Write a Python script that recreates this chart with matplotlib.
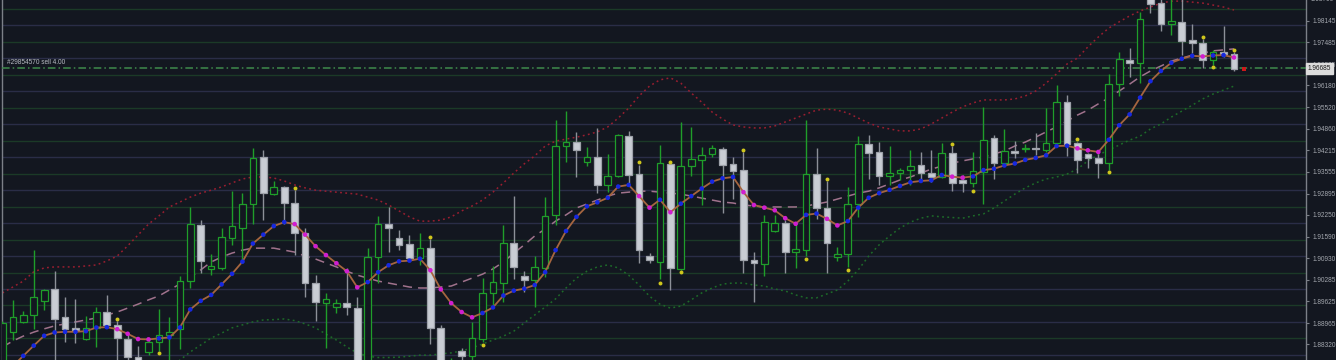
import numpy as np
import matplotlib
matplotlib.use("Agg")
import matplotlib.pyplot as plt
import matplotlib.transforms as mtransforms

# --- bar data (one value per candle) ---
opens = [1.8778, 1.8870, 1.8900, 1.8921, 1.8963, 1.9000, 1.8915, 1.8882, 1.8848, 1.8882,
         1.8930, 1.8891, 1.8848, 1.8794, 1.8809, 1.8839, 1.8860, 1.8879, 1.9024, 1.9194,
         1.9061, 1.9064, 1.9155, 1.9185, 1.9258, 1.9401, 1.9288, 1.9310, 1.9261, 1.9170,
         1.9018, 1.8958, 1.8945, 1.8958, 1.8942, 1.8760, 1.9097, 1.9197, 1.9155, 1.9137,
         1.9094, 1.9124, 1.8882, 1.8739, 1.8812, 1.8797, 1.8848, 1.8988, 1.9018, 1.9140,
         1.9039, 1.9027, 1.9064, 1.9225, 1.9434, 1.9446, 1.9386, 1.9401, 1.9316, 1.9343,
         1.9464, 1.9349, 1.9100, 1.9082, 1.9379, 1.9061, 1.9373, 1.9392, 1.9410, 1.9425,
         1.9379, 1.9361, 1.9088, 1.9076, 1.9176, 1.9200, 1.9112, 1.9118, 1.9349, 1.9246,
         1.9097, 1.9106, 1.9258, 1.9440, 1.9416, 1.9343, 1.9352, 1.9361, 1.9376, 1.9352,
         1.9340, 1.9413, 1.9331, 1.9322, 1.9355, 1.9458, 1.9382, 1.9419, 1.9425, 1.9428,
         1.9422, 1.9443, 1.9568, 1.9443, 1.9410, 1.9398, 1.9382, 1.9622, 1.9695, 1.9686,
         1.9887, 1.9868, 1.9805, 1.9811, 1.9756, 1.9747, 1.9695, 1.9720, 1.9713]
highs = [1.8903, 1.8967, 1.8933, 1.9118, 1.9000, 1.9054, 1.8976, 1.8970, 1.8918, 1.8945,
         1.8982, 1.8903, 1.8860, 1.8827, 1.8845, 1.8939, 1.8915, 1.9039, 1.9249, 1.9209,
         1.9106, 1.9185, 1.9298, 1.9291, 1.9428, 1.9422, 1.9328, 1.9313, 1.9300, 1.9185,
         1.9042, 1.8988, 1.8970, 1.9064, 1.8976, 1.9124, 1.9222, 1.9249, 1.9179, 1.9164,
         1.9170, 1.9152, 1.8891, 1.8790, 1.8821, 1.8900, 1.9033, 1.9070, 1.9194, 1.9282,
         1.9054, 1.9100, 1.9279, 1.9513, 1.9540, 1.9477, 1.9431, 1.9489, 1.9410, 1.9471,
         1.9480, 1.9376, 1.9109, 1.9437, 1.9382, 1.9507, 1.9492, 1.9431, 1.9437, 1.9431,
         1.9401, 1.9416, 1.9112, 1.9225, 1.9225, 1.9209, 1.9200, 1.9513, 1.9428, 1.9328,
         1.9127, 1.9310, 1.9464, 1.9468, 1.9446, 1.9434, 1.9367, 1.9422, 1.9416, 1.9422,
         1.9443, 1.9434, 1.9346, 1.9416, 1.9553, 1.9468, 1.9486, 1.9449, 1.9440, 1.9474,
         1.9550, 1.9619, 1.9589, 1.9446, 1.9413, 1.9410, 1.9653, 1.9720, 1.9732, 1.9841,
         1.9896, 1.9883, 1.9887, 1.9887, 1.9805, 1.9759, 1.9726, 1.9798, 1.9720]
lows = [1.8760, 1.8845, 1.8897, 1.8879, 1.8936, 1.8778, 1.8839, 1.8836, 1.8845, 1.8824,
        1.8888, 1.8769, 1.8778, 1.8748, 1.8800, 1.8812, 1.8778, 1.8818, 1.9003, 1.9048,
        1.9042, 1.9058, 1.9134, 1.9079, 1.9197, 1.9209, 1.9285, 1.9197, 1.9103, 1.8976,
        1.8903, 1.8821, 1.8927, 1.8921, 1.8739, 1.8748, 1.9018, 1.9112, 1.9118, 1.9088,
        1.9073, 1.8833, 1.8748, 1.8724, 1.8778, 1.8778, 1.8839, 1.8951, 1.8961, 1.9030,
        1.8991, 1.8945, 1.9036, 1.9194, 1.9386, 1.9340, 1.9373, 1.9291, 1.9294, 1.9340,
        1.9322, 1.9079, 1.9079, 1.9030, 1.8997, 1.9058, 1.9343, 1.9255, 1.9401, 1.9231,
        1.9273, 1.9048, 1.8961, 1.9039, 1.9173, 1.9048, 1.9064, 1.9100, 1.9213, 1.9048,
        1.9085, 1.9067, 1.9219, 1.9334, 1.9316, 1.9316, 1.9331, 1.9316, 1.9325, 1.9325,
        1.9337, 1.9297, 1.9294, 1.9310, 1.9258, 1.9334, 1.9376, 1.9398, 1.9416, 1.9407,
        1.9416, 1.9431, 1.9404, 1.9352, 1.9367, 1.9337, 1.9361, 1.9586, 1.9644, 1.9625,
        1.9838, 1.9783, 1.9771, 1.9710, 1.9716, 1.9671, 1.9680, 1.9704, 1.9662]
closes = [1.8897, 1.8915, 1.8921, 1.8976, 1.8997, 1.8909, 1.8879, 1.8876, 1.8882, 1.8930,
          1.8891, 1.8851, 1.8794, 1.8760, 1.8839, 1.8860, 1.8870, 1.9024, 1.9197, 1.9085,
          1.9070, 1.9158, 1.9191, 1.9258, 1.9398, 1.9291, 1.9310, 1.9261, 1.9170, 1.9018,
          1.8961, 1.8970, 1.8958, 1.8945, 1.8754, 1.9097, 1.9197, 1.9185, 1.9134, 1.9094,
          1.9124, 1.8882, 1.8760, 1.8769, 1.8797, 1.8851, 1.8988, 1.9021, 1.9140, 1.9067,
          1.9027, 1.9067, 1.9222, 1.9434, 1.9446, 1.9422, 1.9401, 1.9316, 1.9343, 1.9468,
          1.9346, 1.9118, 1.9088, 1.9382, 1.9064, 1.9373, 1.9395, 1.9407, 1.9428, 1.9376,
          1.9358, 1.9088, 1.9079, 1.9203, 1.9200, 1.9112, 1.9121, 1.9349, 1.9246, 1.9140,
          1.9106, 1.9258, 1.9440, 1.9413, 1.9343, 1.9352, 1.9361, 1.9373, 1.9352, 1.9340,
          1.9413, 1.9322, 1.9322, 1.9358, 1.9452, 1.9382, 1.9419, 1.9413, 1.9428, 1.9425,
          1.9443, 1.9568, 1.9440, 1.9392, 1.9398, 1.9382, 1.9622, 1.9698, 1.9686, 1.9820,
          1.9865, 1.9805, 1.9814, 1.9753, 1.9747, 1.9695, 1.9720, 1.9713, 1.96685]

# --- indicators ---
fast_ma = [1.8736, 1.8766, 1.8797, 1.8828, 1.8858, 1.8868, 1.8870, 1.8870, 1.8872, 1.8883,
           1.8884, 1.8878, 1.8864, 1.8848, 1.8847, 1.8850, 1.8853, 1.8883, 1.8938, 1.8964,
           1.8982, 1.9014, 1.9046, 1.9083, 1.9138, 1.9165, 1.9191, 1.9203, 1.9197, 1.9165,
           1.9130, 1.9103, 1.9078, 1.9054, 1.9005, 1.9021, 1.9051, 1.9072, 1.9084, 1.9086,
           1.9092, 1.9057, 1.8999, 1.8957, 1.8930, 1.8914, 1.8927, 1.8944, 1.8980, 1.8995,
           1.9001, 1.9012, 1.9051, 1.9118, 1.9176, 1.9219, 1.9251, 1.9263, 1.9277, 1.9311,
           1.9316, 1.9282, 1.9247, 1.9271, 1.9233, 1.9259, 1.9282, 1.9305, 1.9326, 1.9336,
           1.9340, 1.9294, 1.9255, 1.9247, 1.9239, 1.9215, 1.9198, 1.9225, 1.9229, 1.9213,
           1.9193, 1.9206, 1.9247, 1.9277, 1.9291, 1.9301, 1.9313, 1.9324, 1.9328, 1.9330,
           1.9346, 1.9341, 1.9338, 1.9342, 1.9361, 1.9365, 1.9375, 1.9381, 1.9392, 1.9398,
           1.9406, 1.9434, 1.9435, 1.9427, 1.9421, 1.9416, 1.9453, 1.9497, 1.9530, 1.9581,
           1.9631, 1.9662, 1.9687, 1.9699, 1.9708, 1.9706, 1.9709, 1.9710, 1.9703]
slow_ma = [1.8824, 1.8842, 1.8857, 1.8869, 1.8879, 1.8888, 1.8894, 1.8900, 1.8906, 1.8912,
           1.8921, 1.8930, 1.8942, 1.8954, 1.8967, 1.8979, 1.8997, 1.9015, 1.9036, 1.9058,
           1.9082, 1.9097, 1.9109, 1.9118, 1.9124, 1.9124, 1.9124, 1.9118, 1.9112, 1.9100,
           1.9091, 1.9079, 1.9067, 1.9054, 1.9042, 1.9033, 1.9024, 1.9018, 1.9012, 1.9006,
           1.9003, 1.9003, 1.9006, 1.9009, 1.9021, 1.9033, 1.9045, 1.9061, 1.9082, 1.9109,
           1.9134, 1.9161, 1.9182, 1.9206, 1.9225, 1.9246, 1.9258, 1.9270, 1.9282, 1.9291,
           1.9294, 1.9297, 1.9297, 1.9294, 1.9291, 1.9288, 1.9282, 1.9276, 1.9270, 1.9264,
           1.9261, 1.9255, 1.9252, 1.9249, 1.9249, 1.9249, 1.9249, 1.9252, 1.9258, 1.9264,
           1.9273, 1.9282, 1.9291, 1.9297, 1.9307, 1.9319, 1.9331, 1.9340, 1.9352, 1.9364,
           1.9373, 1.9382, 1.9389, 1.9395, 1.9401, 1.9410, 1.9419, 1.9434, 1.9446, 1.9461,
           1.9477, 1.9492, 1.9510, 1.9528, 1.9543, 1.9562, 1.9580, 1.9601, 1.9622, 1.9644,
           1.9662, 1.9677, 1.9692, 1.9701, 1.9710, 1.9716, 1.9723, 1.9726, 1.9729]
upper_band = [1.8988, 1.9006, 1.9024, 1.9052, 1.9064, 1.9067, 1.9067, 1.9067, 1.9070, 1.9073,
              1.9085, 1.9100, 1.9131, 1.9164, 1.9197, 1.9222, 1.9249, 1.9264, 1.9279, 1.9291,
              1.9300, 1.9310, 1.9322, 1.9334, 1.9340, 1.9340, 1.9337, 1.9328, 1.9316, 1.9307,
              1.9300, 1.9297, 1.9294, 1.9291, 1.9288, 1.9279, 1.9270, 1.9255, 1.9237, 1.9219,
              1.9206, 1.9206, 1.9209, 1.9219, 1.9237, 1.9252, 1.9270, 1.9294, 1.9322, 1.9352,
              1.9380, 1.9404, 1.9434, 1.9449, 1.9455, 1.9461, 1.9468, 1.9477, 1.9492, 1.9519,
              1.9549, 1.9586, 1.9616, 1.9635, 1.9641, 1.9625, 1.9595, 1.9567, 1.9537, 1.9516,
              1.9498, 1.9492, 1.9489, 1.9489, 1.9495, 1.9507, 1.9519, 1.9531, 1.9543, 1.9546,
              1.9543, 1.9534, 1.9519, 1.9504, 1.9492, 1.9486, 1.9480, 1.9480, 1.9486, 1.9501,
              1.9519, 1.9537, 1.9553, 1.9565, 1.9574, 1.9574, 1.9574, 1.9577, 1.9586, 1.9601,
              1.9625, 1.9653, 1.9683, 1.9701, 1.9735, 1.9765, 1.9792, 1.9811, 1.9829, 1.9844,
              1.9856, 1.9868, 1.9874, 1.9874, 1.9871, 1.9868, 1.9862, 1.9856, 1.9847]
lower_band = [np.nan] * 16 + [
              1.8754, 1.8784, 1.8809, 1.8830,
              1.8851, 1.8866, 1.8882, 1.8891, 1.8900, 1.8906, 1.8907, 1.8909, 1.8904, 1.8894,
              1.8882, 1.8863, 1.8845, 1.8824, 1.8806, 1.8796, 1.8792, 1.8792, 1.8793, 1.8796,
              1.8799, 1.8799, 1.8803, 1.8806, 1.8812, 1.8821, 1.8833, 1.8845, 1.8857, 1.8872,
              1.8897, 1.8921, 1.8945, 1.8970, 1.9003, 1.9033, 1.9054, 1.9067, 1.9073, 1.9064,
              1.9042, 1.9012, 1.8978, 1.8954, 1.8942, 1.8948, 1.8967, 1.8988, 1.9003, 1.9015,
              1.9018, 1.9018, 1.9012, 1.9009, 1.9000, 1.8994, 1.8982, 1.8973, 1.8973, 1.8985,
              1.8997, 1.9024, 1.9058, 1.9100, 1.9134, 1.9161, 1.9185, 1.9203, 1.9215, 1.9222,
              1.9219, 1.9217, 1.9215, 1.9222, 1.9228, 1.9246, 1.9267, 1.9288, 1.9307, 1.9322,
              1.9334, 1.9340, 1.9349, 1.9364, 1.9389, 1.9407, 1.9422, 1.9437, 1.9452, 1.9464,
              1.9486, 1.9501, 1.9522, 1.9540, 1.9558, 1.9577, 1.9592, 1.9604, 1.9616]

# yellow signal dots
dots_up_idx = [11, 28, 41, 61, 64, 71, 79, 91, 103, 115, 118]
dots_up_price = [1.8910, 1.9306, 1.9157, 1.9385, 1.9385, 1.9422, 1.9334, 1.9440, 1.9455, 1.9766, 1.9726]
dots_dn_idx = [15, 46, 63, 65, 77, 81, 93, 106, 116]
dots_dn_price = [1.8806, 1.8830, 1.9017, 1.9052, 1.9090, 1.9058, 1.9298, 1.9356, 1.9675]

sell_price = 1.9672
sell_label = "#29854570 sell 4.00"
last_price = 1.96685
ytick_vals = [1.98145, 1.97485, 1.96825, 1.96180, 1.95520, 1.94860, 1.94215, 1.93555,
              1.92895, 1.92250, 1.91590, 1.90930, 1.90285, 1.89625, 1.88965, 1.88320]
top_label = 1.98790

# --- style ---
BG = "#131720"
BULL = "#1f9e2a"
BEAR_FACE = "#c9cdd4"
BEAR_EDGE = "#9ea2aa"
BEAR_WICK = "#8c9098"
AXIS = "#7c8088"
FONT = ["Liberation Sans", "DejaVu Sans"]
FS = 4.7

fig = plt.figure(figsize=(13.36, 3.6), dpi=100, facecolor=BG)
ax = fig.add_axes([2 / 1336, 0, 1304 / 1336, 1])
ax.set_facecolor(BG)
yblend = mtransforms.blended_transform_factory(ax.transAxes, ax.transData)

n = len(closes)
idx = np.arange(n)
o = np.array(opens); h = np.array(highs); l = np.array(lows); c = np.array(closes)
bull = c >= o

# horizontal level lines every 0.005
levels = np.round(np.arange(1.875, 1.9901, 0.005), 3)
for lv in levels:
    col = "#1b3a27" if round(lv * 1000) % 10 == 5 else "#2a2d47"
    ax.axhline(lv, color=col, lw=1, zorder=0)

# bands and slow MA
ax.plot(idx, upper_band, color="#9a1e30", lw=1.1, ls=(0, (1.2, 2.2)), zorder=2)
ax.plot(idx, lower_band, color="#1d6b29", lw=1.1, ls=(0, (1.2, 2.2)), zorder=2)
ax.plot(idx, slow_ma, color="#a0728c", lw=1.1, ls=(0, (6, 4)), zorder=2)

# candles
wick_cols = [BULL if b else BEAR_WICK for b in bull]
ax.vlines(idx, l, h, colors=wick_cols, lw=1, zorder=3)
bottoms = np.minimum(o, c)
heights = np.abs(c - o)
ax.bar(idx[bull], heights[bull], bottom=bottoms[bull], width=0.64,
       color=BG, edgecolor=BULL, linewidth=0.9, zorder=4)
ax.bar(idx[~bull], heights[~bull], bottom=bottoms[~bull], width=0.64,
       color=BEAR_FACE, edgecolor=BEAR_EDGE, linewidth=0.9, zorder=4)

# fast MA with slope-coloured dots
fm = np.array(fast_ma)
ax.plot(idx, fm, color="#a5653f", lw=1.3, zorder=5)
rising = np.concatenate([[True], np.diff(fm) >= 0])
dot_cols = np.where(rising, "#1628e0", "#d01ed0")
ax.scatter(idx, fm, c=dot_cols, s=11, linewidths=0, zorder=6)

# signal dots
ax.scatter(dots_up_idx, dots_up_price, color="#cfc61c", s=8, linewidths=0, zorder=6)
ax.scatter(dots_dn_idx, dots_dn_price, color="#cfc61c", s=8, linewidths=0, zorder=6)

# sell order line and marker
ax.axhline(sell_price, color="#3f8a4c", lw=1.1, ls=(0, (5, 2, 1, 2)), zorder=3)
ax.text(0.0035, sell_price + 0.0004, sell_label, transform=yblend,
        color="#b8bcc4", fontsize=FS, family=FONT, va="bottom", ha="left", zorder=7)
ax.scatter([n], [last_price], marker="s", color="#cc1a1a", s=10, linewidths=0, zorder=6)

# axes
ax.set_xlim(-0.04, 124.9)
ax.set_ylim(1.87844, 1.98774)
ax.set_xticks([])
ax.yaxis.tick_right()
ax.set_yticks(ytick_vals)
ax.set_yticklabels([f"{v:.5f}" for v in ytick_vals], family=FONT)
ax.tick_params(axis="y", direction="out", length=2.5, width=0.8, color=AXIS,
               labelsize=FS, labelcolor="#a3a7ae", pad=2)
for side in ("top", "bottom"):
    ax.spines[side].set_visible(False)
for side in ("left", "right"):
    ax.spines[side].set_color(AXIS)
    ax.spines[side].set_linewidth(1)

ax.text(1.0035, top_label, f"{top_label:.5f}", transform=yblend,
        color="#a3a7ae", fontsize=FS, family=FONT, va="center", ha="left", clip_on=False)
ax.text(1.0012, last_price, f"{last_price:.5f}", transform=yblend,
        color="#1a1a1a", fontsize=FS, family=FONT, va="center", ha="left", clip_on=False, zorder=10,
        bbox=dict(boxstyle="square,pad=0.3", facecolor="#dcdcdc", edgecolor="#dcdcdc"))

fig.savefig("out.png", dpi=100, facecolor=BG)
